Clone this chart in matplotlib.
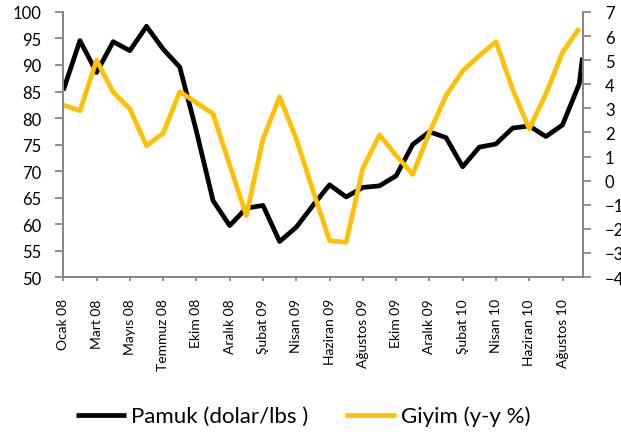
import matplotlib
matplotlib.use("Agg")
import matplotlib.pyplot as plt

# monthly positions (0 = Ocak 08); the cotton series has one extra late reading
pamuk_x = list(range(32)) + [31.2]
pamuk = [85.2, 94.6, 88.6, 94.4, 92.7, 97.3, 93.0, 89.6, 77.5, 64.4, 59.7, 63.0,
         63.5, 56.7, 59.4, 63.5, 67.4, 65.1, 66.9, 67.2, 69.1, 75.0, 77.4, 76.3,
         70.8, 74.5, 75.1, 78.1, 78.5, 76.5, 78.7, 86.4, 91.4]

giyim_x = list(range(32))
giyim = [3.14, 2.9, 5.0, 3.67, 2.98, 1.45, 1.97, 3.69, 3.24, 2.77, 0.65, -1.45,
         1.73, 3.48, 1.73, -0.4, -2.49, -2.56, 0.51, 1.9, 1.05, 0.26, 2.0, 3.53,
         4.56, 5.19, 5.77, 3.8, 2.15, 3.6, 5.33, 6.32]

tick_pos = list(range(0, 31, 2))
tick_labels = ["Ocak 08", "Mart 08", "Mayıs 08", "Temmuz 08", "Ekim 08", "Aralık 08",
               "Şubat 09", "Nisan 09", "Haziran 09", "Ağustos 09", "Ekim 09", "Aralık 09",
               "Şubat 10", "Nisan 10", "Haziran 10", "Ağustos 10"]

plt.rcParams["font.family"] = ["Lato", "DejaVu Sans"]
grey = "#868686"
black = "#000000"
gold = "#FFC000"

fig = plt.figure(figsize=(6.21, 4.39), dpi=100)
ax = fig.add_axes([0.1019, 0.3667, 0.8369, 0.6037])
ax2 = ax.twinx()

l1, = ax.plot(pamuk_x, pamuk, color=black, lw=3.4, solid_joinstyle="round",
              solid_capstyle="butt", label="Pamuk (dolar/lbs )")
l2, = ax2.plot(giyim_x, giyim, color=gold, lw=3.4, solid_joinstyle="round",
               solid_capstyle="butt", label="Giyim (y-y %)")

ax.set_xlim(0, 31.23)
ax.set_ylim(50, 100)
ax.set_yticks(range(50, 101, 5))
ax2.set_ylim(-4, 7)
ax2.set_yticks(range(-4, 8))

ax.set_xticks(tick_pos)
ax.set_xticklabels(tick_labels, rotation=90, fontsize=10)

for a in (ax, ax2):
    for side in ("top",):
        a.spines[side].set_visible(False)
    for side in ("left", "right", "bottom"):
        a.spines[side].set_color(grey)
        a.spines[side].set_linewidth(1.3)

ax.tick_params(axis="y", length=5.8, width=1.3, color=grey, pad=10, labelsize=12)
ax.tick_params(axis="x", length=3.2, width=1.3, color=grey, pad=12)
ax2.tick_params(axis="y", length=5.8, width=1.3, color=grey, pad=10, labelsize=12)

fig.legend(handles=[l1, l2], loc="center", bbox_to_anchor=(0.488, 0.05), ncol=2,
           frameon=False, fontsize=16, handlelength=2.27, handletextpad=0.23,
           columnspacing=1.64)

fig.savefig("out.png", dpi=100)
